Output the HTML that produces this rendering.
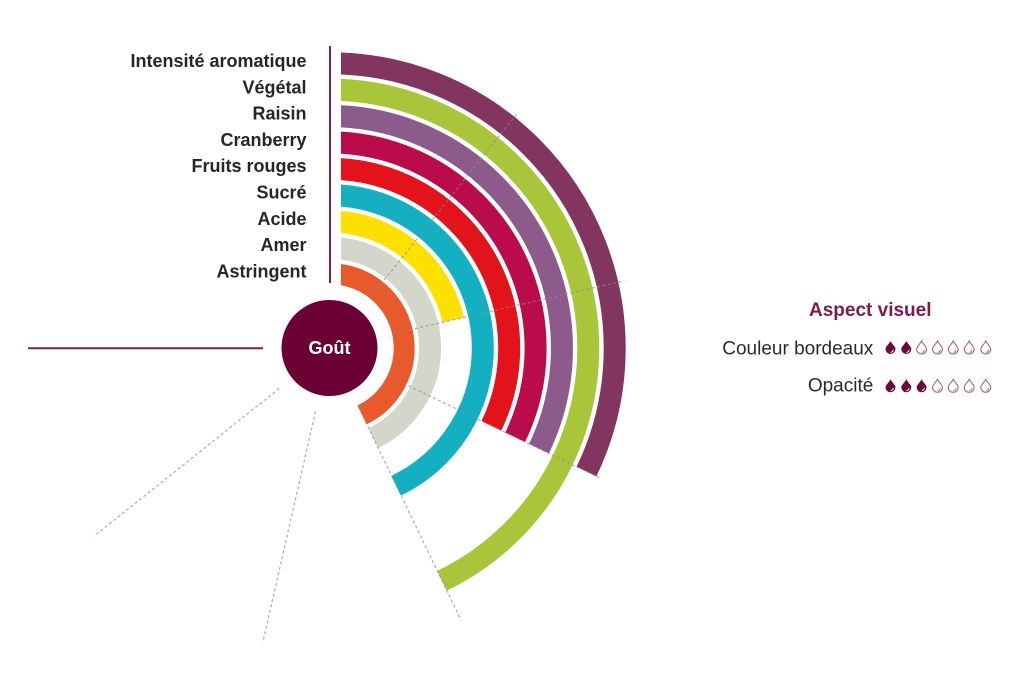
<!DOCTYPE html>
<html>
<head>
<meta charset="utf-8">
<style>
  html, body { margin: 0; padding: 0; background: #ffffff; }
  body { width: 1024px; height: 697px; overflow: hidden; }
  svg { display: block; }
  .lbl { font-family: "Liberation Sans", "DejaVu Sans", sans-serif; font-weight: bold; font-size: 18px; fill: #262626; }
</style>
</head>
<body>
<svg width="1024" height="697" viewBox="0 0 1024 697" xmlns="http://www.w3.org/2000/svg">
  <defs>
    <clipPath id="clipR" clipPathUnits="userSpaceOnUse">
      <rect x="341" y="0" width="700" height="697"/>
    </clipPath>
    <path id="drop" d="M0,0 C1.6,3.2 5,5.8 5,8 A5,5 0 1 1 -5,8 C-5,5.8 -1.6,3.2 0,0 Z"/>
  </defs>
  <rect x="0" y="0" width="1024" height="697" fill="#ffffff"/>

  <!-- Arcs -->
  <g clip-path="url(#clipR)">
    <g fill="none" stroke-width="22" transform="rotate(-90 330 348)">
      <circle cx="330" cy="348" r="284.7" stroke="#82365f" stroke-dasharray="574.98 3000"/>
      <circle cx="330" cy="348" r="258.3" stroke="#a9c63a" stroke-dasharray="695.55 3000"/>
      <circle cx="330" cy="348" r="231.95" stroke="#8c5b8b" stroke-dasharray="468.45 3000"/>
      <circle cx="330" cy="348" r="205.6" stroke="#ba0b4a" stroke-dasharray="415.23 3000"/>
      <circle cx="330" cy="348" r="179.2" stroke="#e3131c" stroke-dasharray="361.91 3000"/>
      <circle cx="330" cy="348" r="152.8" stroke="#15afc2" stroke-dasharray="411.46 3000"/>
      <circle cx="330" cy="348" r="126.45" stroke="#fee000" stroke-dasharray="170.25 3000"/>
      <circle cx="330" cy="348" r="100.1" stroke="#d5d6cb" stroke-dasharray="269.55 3000"/>
      <circle cx="330" cy="348" r="74.2" stroke="#e85a2c" stroke-width="21" stroke-dasharray="199.8 3000"/>
    </g>
  </g>

  <!-- Dashed radial lines -->
  <g stroke="#8a8a8a" stroke-opacity="0.7" stroke-width="1.2" stroke-dasharray="3 2.5" fill="none">
    <line x1="370.53" y1="297.18" x2="518.29" y2="111.89"/>
    <line x1="393.37" y1="333.54" x2="624.43" y2="280.80"/>
    <line x1="388.56" y1="376.20" x2="602.09" y2="479.03"/>
    <line x1="358.20" y1="406.56" x2="461.03" y2="620.09"/>
    <line x1="315.54" y1="411.37" x2="262.80" y2="642.43"/>
    <line x1="279.18" y1="388.53" x2="93.89" y2="536.29"/>
  </g>

  <!-- Solid axis lines -->
  <line x1="330" y1="46" x2="330" y2="283" stroke="#7b2050" stroke-width="2"/>
  <line x1="28" y1="348.3" x2="263" y2="348.3" stroke="#7b2050" stroke-width="2"/>

  <!-- Center circle -->
  <circle cx="329.5" cy="348" r="48" fill="#6a0034"/>
  <text x="329.5" y="354" text-anchor="middle" font-family="Liberation Sans, DejaVu Sans, sans-serif" font-weight="bold" font-size="18" fill="#ffffff">Goût</text>

  <!-- Labels -->
  <text class="lbl" x="306.5" y="67" text-anchor="end">Intensité aromatique</text>
  <text class="lbl" x="306.5" y="93.3" text-anchor="end">Végétal</text>
  <text class="lbl" x="306.5" y="119.6" text-anchor="end">Raisin</text>
  <text class="lbl" x="306.5" y="145.9" text-anchor="end">Cranberry</text>
  <text class="lbl" x="306.5" y="172.2" text-anchor="end">Fruits rouges</text>
  <text class="lbl" x="306.5" y="198.5" text-anchor="end">Sucré</text>
  <text class="lbl" x="306.5" y="224.8" text-anchor="end">Acide</text>
  <text class="lbl" x="306.5" y="251.1" text-anchor="end">Amer</text>
  <text class="lbl" x="306.5" y="277.4" text-anchor="end">Astringent</text>

  <!-- Right panel -->
  <text x="809" y="316" font-family="Liberation Sans, DejaVu Sans, sans-serif" font-weight="bold" font-size="19" fill="#7a1d4c">Aspect visuel</text>
  <text x="873.3" y="354.3" text-anchor="end" font-family="Liberation Sans, DejaVu Sans, sans-serif" font-size="19" fill="#2b2b2b">Couleur bordeaux</text>
  <text x="873.3" y="391.7" text-anchor="end" font-family="Liberation Sans, DejaVu Sans, sans-serif" font-size="19" fill="#2b2b2b">Opacité</text>

  <!-- Row 1 drops: 2 filled -->
  <g transform="translate(0,341)">
    <g transform="translate(890.5,0)"><use href="#drop" fill="#6b0a3a"/><path d="M2.8,8.6 A2.8,2.8 0 0 1 0,11.4" stroke="#fff" stroke-width="0.9" fill="none"/></g>
    <g transform="translate(906.3,0)"><use href="#drop" fill="#6b0a3a"/><path d="M2.8,8.6 A2.8,2.8 0 0 1 0,11.4" stroke="#fff" stroke-width="0.9" fill="none"/></g>
    <g transform="translate(921.6,0)"><use href="#drop" fill="none" stroke="#9b5c7e" stroke-width="1"/><path d="M2.8,8.6 A2.8,2.8 0 0 1 0,11.4" stroke="#9b5c7e" stroke-width="0.8" fill="none"/></g>
    <g transform="translate(937.5,0)"><use href="#drop" fill="none" stroke="#9b5c7e" stroke-width="1"/><path d="M2.8,8.6 A2.8,2.8 0 0 1 0,11.4" stroke="#9b5c7e" stroke-width="0.8" fill="none"/></g>
    <g transform="translate(953.2,0)"><use href="#drop" fill="none" stroke="#9b5c7e" stroke-width="1"/><path d="M2.8,8.6 A2.8,2.8 0 0 1 0,11.4" stroke="#9b5c7e" stroke-width="0.8" fill="none"/></g>
    <g transform="translate(969.2,0)"><use href="#drop" fill="none" stroke="#9b5c7e" stroke-width="1"/><path d="M2.8,8.6 A2.8,2.8 0 0 1 0,11.4" stroke="#9b5c7e" stroke-width="0.8" fill="none"/></g>
    <g transform="translate(985.8,0)"><use href="#drop" fill="none" stroke="#9b5c7e" stroke-width="1"/><path d="M2.8,8.6 A2.8,2.8 0 0 1 0,11.4" stroke="#9b5c7e" stroke-width="0.8" fill="none"/></g>
  </g>

  <!-- Row 2 drops: 3 filled -->
  <g transform="translate(0,379.3)">
    <g transform="translate(890.5,0)"><use href="#drop" fill="#6b0a3a"/><path d="M2.8,8.6 A2.8,2.8 0 0 1 0,11.4" stroke="#fff" stroke-width="0.9" fill="none"/></g>
    <g transform="translate(906.3,0)"><use href="#drop" fill="#6b0a3a"/><path d="M2.8,8.6 A2.8,2.8 0 0 1 0,11.4" stroke="#fff" stroke-width="0.9" fill="none"/></g>
    <g transform="translate(921.6,0)"><use href="#drop" fill="#6b0a3a"/><path d="M2.8,8.6 A2.8,2.8 0 0 1 0,11.4" stroke="#fff" stroke-width="0.9" fill="none"/></g>
    <g transform="translate(937.5,0)"><use href="#drop" fill="none" stroke="#9b5c7e" stroke-width="1"/><path d="M2.8,8.6 A2.8,2.8 0 0 1 0,11.4" stroke="#9b5c7e" stroke-width="0.8" fill="none"/></g>
    <g transform="translate(953.2,0)"><use href="#drop" fill="none" stroke="#9b5c7e" stroke-width="1"/><path d="M2.8,8.6 A2.8,2.8 0 0 1 0,11.4" stroke="#9b5c7e" stroke-width="0.8" fill="none"/></g>
    <g transform="translate(969.2,0)"><use href="#drop" fill="none" stroke="#9b5c7e" stroke-width="1"/><path d="M2.8,8.6 A2.8,2.8 0 0 1 0,11.4" stroke="#9b5c7e" stroke-width="0.8" fill="none"/></g>
    <g transform="translate(985.8,0)"><use href="#drop" fill="none" stroke="#9b5c7e" stroke-width="1"/><path d="M2.8,8.6 A2.8,2.8 0 0 1 0,11.4" stroke="#9b5c7e" stroke-width="0.8" fill="none"/></g>
  </g>
</svg>
</body>
</html>
